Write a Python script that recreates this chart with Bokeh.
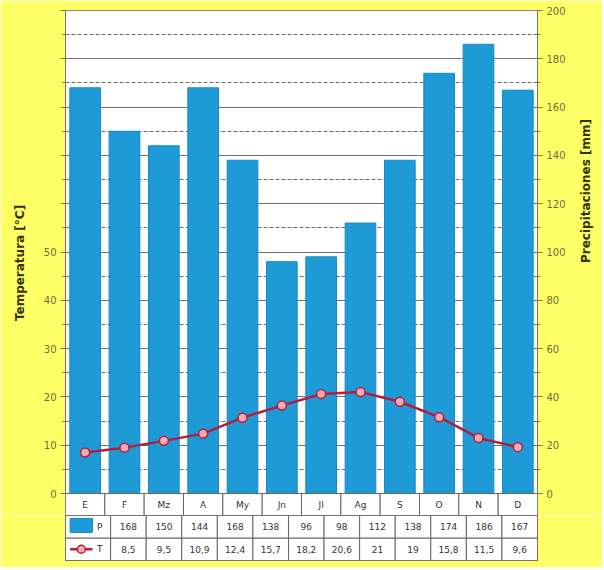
from math import pi
from bokeh.plotting import figure
from bokeh.models import Range1d, LinearAxis, FixedTicker
from bokeh.layouts import column
from bokeh.embed import file_html
from bokeh.resources import INLINE
from bokeh.core.properties import value

months = ["E", "F", "Mz", "A", "My", "Jn", "Jl", "Ag", "S", "O", "N", "D"]
precip = [168, 150, 144, 168, 138, 96, 98, 112, 138, 174, 186, 167]
temp = [8.5, 9.5, 10.9, 12.4, 15.7, 18.2, 20.6, 21, 19, 15.8, 11.5, 9.6]
precip_ticks = list(range(0, 201, 20))
precip_minor = list(range(10, 200, 20))
temp_ticks = list(range(0, 101, 10))
temp_labeled = list(range(0, 51, 10))
temp_minor = list(range(5, 100, 10))

YELLOW = "#FFFF66"
BLUE = "#1E9BD7"
RED = "#B41E3C"
FONT = "DejaVu Sans"
TXT = "#333333"

n = len(months)
x = list(range(1, n + 1))
hdr = 9.1            # header row height (precip units)
unit_px = 473 / n    # pixels per category
leg_w = 50 / unit_px # legend column width in category units

p = figure(width=602, height=515,
           x_range=Range1d(0.5, n + 0.5), y_range=Range1d(-hdr, 200),
           output_backend="svg", toolbar_location=None,
           x_axis_location=None, y_axis_location="right",
           min_border_left=65, min_border_right=64,
           min_border_top=10, min_border_bottom=0)
p.background_fill_color = "white"
p.border_fill_color = YELLOW
p.outline_line_color = "#8a8a70"
p.extra_y_ranges = {"temp": Range1d(-hdr / 2, 100)}

p.xgrid.visible = False
p.ygrid.ticker = FixedTicker(ticks=precip_ticks, minor_ticks=precip_minor)
p.ygrid.bounds = (0, 200)
p.ygrid.grid_line_color = "#707070"
p.ygrid.minor_grid_line_color = "#707070"
p.ygrid.minor_grid_line_dash = "4 2"

rax = p.yaxis[0]
rax.ticker = FixedTicker(ticks=precip_ticks, minor_ticks=precip_minor)
rax.bounds = (0, 200)
rax.axis_label = "Precipitaciones [mm]"
rax.axis_label_standoff = 17
if "axis_label_orientation" in rax.properties():
    rax.axis_label_orientation = pi / 2

tax = LinearAxis(y_range_name="temp",
                 ticker=FixedTicker(ticks=temp_ticks, minor_ticks=temp_minor),
                 bounds=(0, 100),
                 axis_label="Temperatura [°C]",
                 axis_label_standoff=14,
                 major_label_overrides={t: "" for t in temp_ticks if t not in temp_labeled})
p.add_layout(tax, "left")

for ax in (rax, tax):
    ax.axis_line_color = "#777766"
    ax.major_tick_line_color = "#777766"
    ax.minor_tick_line_color = "#777766"
    ax.major_tick_out = 5
    ax.major_tick_in = 0
    ax.minor_tick_out = 3
    ax.minor_tick_in = 0
    ax.major_label_text_font = FONT
    ax.major_label_text_font_size = "10px"
    ax.major_label_text_color = "#6e6e45"
    ax.major_label_standoff = 4
    ax.axis_label_text_font = FONT
    ax.axis_label_text_font_size = "12px"
    ax.axis_label_text_font_style = "bold"
    ax.axis_label_text_color = "#333300"

p.vbar(x=x, top=precip, bottom=0, width=0.78, fill_color=BLUE, line_color="#1888C0")
p.line(x, temp, y_range_name="temp", line_color=RED, line_width=2.5)
p.scatter(x, temp, y_range_name="temp", size=9, fill_color="#F5AAB4",
          line_color=RED, line_width=1.5)

# header row of the table (month names)
p.quad(left=[i - 0.5 for i in x], right=[i + 0.5 for i in x], top=0, bottom=-hdr,
       fill_color="white", line_color="#666666")
p.text(x=x, y=[-hdr / 2] * n, text=months, text_align="center", text_baseline="middle",
       text_font=value(FONT), text_font_size="9px", text_color=TXT)

# data table below
t = figure(width=602, height=52,
           x_range=Range1d(0.5 - leg_w, n + 0.5), y_range=Range1d(0, 2),
           output_backend="svg", toolbar_location=None,
           x_axis_location=None, y_axis_location=None,
           min_border_left=15, min_border_right=64, min_border_top=0, min_border_bottom=7)
t.background_fill_color = "white"
t.border_fill_color = YELLOW
t.outline_line_color = "#555555"
t.xgrid.visible = False
t.ygrid.visible = False

lefts = [0.5 - leg_w] + [i - 0.5 for i in x]
rights = [0.5] + [i + 0.5 for i in x]
for row in (0, 1):
    t.quad(left=lefts, right=rights, bottom=row, top=row + 1,
           fill_color="white", line_color="#666666")

temp_txt = [f"{v:g}".replace(".", ",") for v in temp]
t.text(x=x, y=[1.5] * n, text=[str(v) for v in precip], text_align="center",
       text_baseline="middle", text_font=value(FONT), text_font_size="9px", text_color=TXT)
t.text(x=x, y=[0.5] * n, text=temp_txt, text_align="center",
       text_baseline="middle", text_font=value(FONT), text_font_size="9px", text_color=TXT)

lx0 = 0.5 - leg_w
t.quad(left=[lx0 + 0.13], right=[lx0 + 0.76], bottom=[1.25], top=[1.87],
       fill_color=BLUE, line_color="#1888C0")
t.line([lx0 + 0.13, lx0 + 0.76], [0.5, 0.5], line_color=RED, line_width=2.5)
t.scatter([lx0 + 0.445], [0.5], size=8, fill_color="#F5AAB4", line_color=RED, line_width=1.5)
t.text(x=[lx0 + 0.96, lx0 + 0.96], y=[1.5, 0.5], text=["P", "T"], text_align="center",
       text_baseline="middle", text_font=value(FONT), text_font_size="9px", text_color=TXT)

layout = column(p, t)
open("out.html", "w").write(file_html(layout, INLINE))
